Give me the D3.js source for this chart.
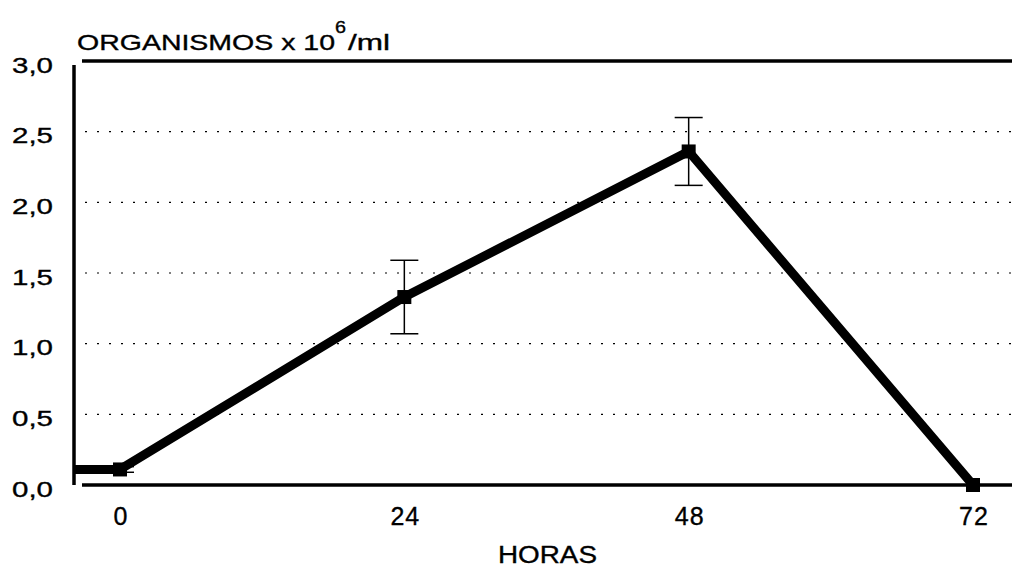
<!DOCTYPE html>
<html><head><meta charset="utf-8">
<script src="https://cdn.jsdelivr.net/npm/d3@7"></script>
<style>body{margin:0;background:#fff}svg{display:block}text{font-family:"Liberation Sans",Arial,sans-serif;fill:#000;stroke:#000;stroke-width:0.35}</style>
</head><body><svg id="c" width="1012" height="568"></svg>
<script>
const hours = [0, 24, 48, 72];
const means = [0.11, 1.33, 2.36, 0.0];
const errs = [0.02, 0.26, 0.24, 0.0];
const yTicks = [0, 0.5, 1.0, 1.5, 2.0, 2.5, 3.0];
const xTicks = [0, 24, 48, 72];
const yTitle = "ORGANISMOS x 10";
const yTitleSup = "6";
const yTitleEnd = "/ml";
const xTitle = "HORAS";

const svg = d3.select("#c");
const x = d3.scaleLinear().domain([0, 72]).range([120, 973]);
const y = d3.scaleLinear().domain([0, 3]).range([485, 61]);
const left = 74, right = 1012;
const fmt = d => d.toFixed(1).replace(".", ",");

// gridlines
svg.append("g").selectAll("line").data(yTicks.filter(d => d > 0 && d < 3)).join("line")
  .attr("x1", 85).attr("x2", right).attr("y1", d => y(d)).attr("y2", d => y(d))
  .attr("stroke", "#000").attr("stroke-width", 1.2).attr("stroke-dasharray", "2,10");

// frame
svg.append("line").attr("x1", left).attr("x2", left).attr("y1", y(3) + 4).attr("y2", y(0))
  .attr("stroke", "#000").attr("stroke-width", 3.5);
svg.append("line").attr("x1", 82).attr("x2", right).attr("y1", y(3)).attr("y2", y(3))
  .attr("stroke", "#000").attr("stroke-width", 3.5);
svg.append("line").attr("x1", 82).attr("x2", right).attr("y1", y(0)).attr("y2", y(0))
  .attr("stroke", "#000").attr("stroke-width", 3.5);

// y tick labels
svg.append("g").selectAll("text").data(yTicks).join("text")
  .attr("x", 12).attr("y", d => y(d) + 11.5)
  .attr("font-size", 22).attr("textLength", 41).attr("lengthAdjust", "spacingAndGlyphs").text(fmt);
// x tick labels
svg.append("g").selectAll("text").data(xTicks).join("text")
  .attr("x", d => x(d) + 1).attr("y", 525).attr("text-anchor", "middle")
  .attr("font-size", 25).attr("letter-spacing", 1).text(d => d);
// titles
svg.append("text").attr("x", 77).attr("y", 50).attr("font-size", 22)
  .attr("textLength", 258).attr("lengthAdjust", "spacingAndGlyphs").text(yTitle);
svg.append("text").attr("x", 335).attr("y", 33).attr("font-size", 17)
  .attr("textLength", 11).attr("lengthAdjust", "spacingAndGlyphs").text(yTitleSup);
svg.append("text").attr("x", 348).attr("y", 50).attr("font-size", 22)
  .attr("textLength", 42).attr("lengthAdjust", "spacingAndGlyphs").text(yTitleEnd);
svg.append("text").attr("x", 498).attr("y", 563).attr("font-size", 23)
  .attr("textLength", 99).attr("lengthAdjust", "spacingAndGlyphs").text(xTitle);

// error bars
const eb = svg.append("g").attr("stroke", "#000").attr("stroke-width", 1.5);
hours.forEach((h, i) => {
  if (errs[i] <= 0) return;
  eb.append("line").attr("x1", x(h)).attr("x2", x(h)).attr("y1", y(means[i] - errs[i])).attr("y2", y(means[i] + errs[i]));
  [means[i] - errs[i], means[i] + errs[i]].forEach(v =>
    eb.append("line").attr("x1", x(h) - 14).attr("x2", x(h) + 14).attr("y1", y(v)).attr("y2", y(v)));
});

// line (starts at the left axis at the first value)
const pts = [[left, y(means[0])]].concat(hours.map((h, i) => [x(h), y(means[i])]));
svg.append("path").attr("d", d3.line()(pts)).attr("fill", "none")
  .attr("stroke", "#000").attr("stroke-width", 9).attr("stroke-linejoin", "miter");
svg.append("g").selectAll("rect").data(hours).join("rect")
  .attr("x", d => x(d) - 7).attr("y", (d, i) => y(means[i]) - 7)
  .attr("width", 14).attr("height", 14).attr("fill", "#000");
</script></body></html>
